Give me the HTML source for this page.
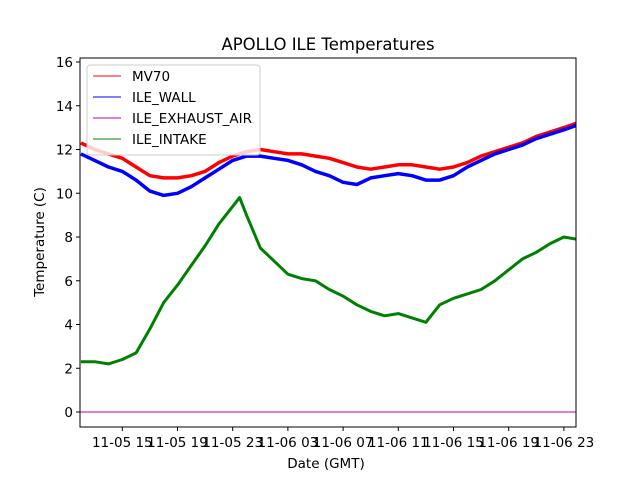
<!DOCTYPE html>
<html><head><meta charset="utf-8"><style>
body{margin:0;background:#fff}
svg text{font-family:"DejaVu Sans","Liberation Sans",sans-serif;fill:#000}
</style></head><body>
<svg id="chart" width="640" height="480" xmlns="http://www.w3.org/2000/svg">
<defs><clipPath id="clip"><rect x="80" y="58" width="496" height="369"/></clipPath></defs>
<rect width="640" height="480" fill="#fff"/>
<g id="plot" clip-path="url(#clip)"></g>
<g id="axes"></g>
</svg>
<script>
const hours=[12,13,14,15,16,17,18,19,20,21,22,23,24,25,26,27,28,29,30,31,32,33,34,35,36,37,38,39,40,41,42,43,44,45,46,47,47.9];
const mv70=[12.3,12.0,11.8,11.6,11.2,10.8,10.7,10.7,10.8,11.0,11.4,11.7,11.9,12.0,11.9,11.8,11.8,11.7,11.6,11.4,11.2,11.1,11.2,11.3,11.3,11.2,11.1,11.2,11.4,11.7,11.9,12.1,12.3,12.6,12.8,13.0,13.2];
const wall=[11.8,11.5,11.2,11.0,10.6,10.1,9.9,10.0,10.3,10.7,11.1,11.5,11.7,11.7,11.6,11.5,11.3,11.0,10.8,10.5,10.4,10.7,10.8,10.9,10.8,10.6,10.6,10.8,11.2,11.5,11.8,12.0,12.2,12.5,12.7,12.9,13.1];
const intakeHours=[12,13,14,15,16,17,18,19,20,21,22,23,23.5,24,25,26,27,28,29,30,31,32,33,34,35,36,37,38,39,40,41,42,43,44,45,46,47,47.9];
const intake=[2.3,2.3,2.2,2.4,2.7,3.8,5.0,5.8,6.7,7.6,8.6,9.4,9.8,9.0,7.5,6.9,6.3,6.1,6.0,5.6,5.3,4.9,4.6,4.4,4.5,4.3,4.1,4.9,5.2,5.4,5.6,6.0,6.5,7.0,7.3,7.7,8.0,7.9];
const exhaustHours=[11.94,47.95];
const exhaust=[0,0];
const yTicks=[0,2,4,6,8,10,12,14,16];
const xTickHours=[15,19,23,27,31,35,39,43,47];
const xTickLabels=["11-05 15","11-05 19","11-05 23","11-06 03","11-06 07","11-06 11","11-06 15","11-06 19","11-06 23"];
const L=80,R=576,T=58,B=427;
const x=h=>122.3+(h-15)*13.8;
const y=v=>412-v*21.875;
const NS="http://www.w3.org/2000/svg";
const plot=document.getElementById('plot'),axes=document.getElementById('axes');
function mk(tag,attrs,parent){const e=document.createElementNS(NS,tag);for(const k in attrs)e.setAttribute(k,attrs[k]);parent.appendChild(e);return e;}
function line(xs,vs,color,w,name){
 const p=mk('polyline',{points:xs.map((h,i)=>x(h).toFixed(1)+','+y(vs[i]).toFixed(1)).join(' '),fill:'none',stroke:color,'stroke-width':w,'stroke-linejoin':'round'},plot);
 
 
}
line(hours,mv70,'#ff0000',3.5,'mv70-line');
line(hours,wall,'#0000ff',3.5,'ile-wall-line');
line(exhaustHours,exhaust,'#bf00bf',1,'ile-exhaust-air-line');
line(intakeHours,intake,'#008000',3,'ile-intake-line');
const fr=mk('rect',{x:L,y:T,width:R-L,height:B-T,fill:'none',stroke:'#000','stroke-width':1},axes);


yTicks.forEach(v=>{
 mk('line',{x1:L-4,x2:L,y1:y(v),y2:y(v),stroke:'#000'},axes);
 const t=mk('text',{x:L-7,y:y(v)+5,'text-anchor':'end','font-size':'13.5'},axes);t.textContent=v;
 
 
});
xTickHours.forEach((h,i)=>{
 mk('line',{x1:x(h),x2:x(h),y1:B,y2:B+4,stroke:'#000'},axes);
 const t=mk('text',{x:x(h),y:B+20,'text-anchor':'middle','font-size':'13.5'},axes);t.textContent=xTickLabels[i];
 
 
});
</script>
<svg style="position:absolute;left:0;top:0" width="640" height="480">
<text x="328" y="50" text-anchor="middle" font-size="16.5">APOLLO ILE Temperatures</text>
<text x="326" y="468" text-anchor="middle" font-size="13.5">Date (GMT)</text>
<text transform="translate(44,242) rotate(-90)" text-anchor="middle" font-size="13.5">Temperature (C)</text>
<g>
<rect x="87" y="65" width="173" height="90" rx="3" fill="#fff" fill-opacity="0.8" stroke="#ccc"/>
<line x1="93" x2="121" y1="76" y2="76" stroke="#ff0000"/>
<text x="132" y="81" font-size="13.5">MV70</text>
<line x1="93" x2="121" y1="97" y2="97" stroke="#0000ff"/>
<text x="132" y="102" font-size="13.5">ILE_WALL</text>
<line x1="93" x2="121" y1="118" y2="118" stroke="#bf00bf"/>
<text x="132" y="123" font-size="13.5">ILE_EXHAUST_AIR</text>
<line x1="93" x2="121" y1="139" y2="139" stroke="#008000"/>
<text x="132" y="144" font-size="13.5">ILE_INTAKE</text>
</g>
</svg>
</body></html>
